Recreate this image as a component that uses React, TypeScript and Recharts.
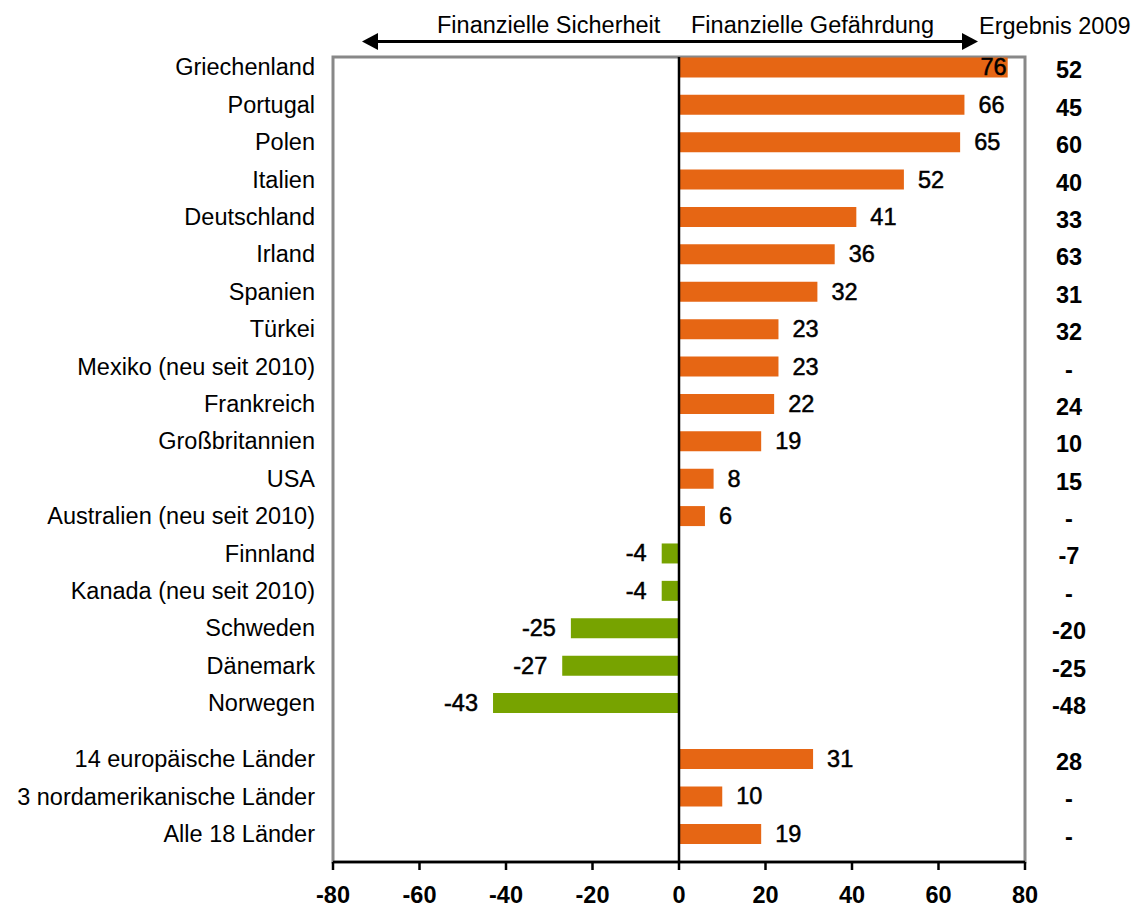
import {
  BarChart,
  Bar,
  XAxis,
  YAxis,
  Cell,
  LabelList,
  ReferenceLine,
  ReferenceArea,
} from "recharts";

const categories = [
  "Griechenland",
  "Portugal",
  "Polen",
  "Italien",
  "Deutschland",
  "Irland",
  "Spanien",
  "Türkei",
  "Mexiko (neu seit 2010)",
  "Frankreich",
  "Großbritannien",
  "USA",
  "Australien (neu seit 2010)",
  "Finnland",
  "Kanada (neu seit 2010)",
  "Schweden",
  "Dänemark",
  "Norwegen",
  "14 europäische Länder",
  "3 nordamerikanische Länder",
  "Alle 18 Länder",
];

const values2010 = [76, 66, 65, 52, 41, 36, 32, 23, 23, 22, 19, 8, 6, -4, -4, -25, -27, -43, 31, 10, 19];

const results2009 = [
  "52", "45", "60", "40", "33", "63", "31", "32", "-", "24", "10", "15", "-",
  "-7", "-", "-20", "-25", "-48", "28", "-", "-",
];

const xTicks = [-80, -60, -40, -20, 0, 20, 40, 60, 80];

// the three aggregate rows sit half a row lower
const SUMMARY_START = 18;

const FONT = '"Liberation Sans", Arial, sans-serif';
const ORANGE = "#E66614";
const GREEN = "#77A300";
const W = 1136;
const H = 908;
const RIGHT_W = 111;
const PLOT_RIGHT = W - RIGHT_W;
const ROW_DOMAIN: [number, number] = [-0.27, 21.26];

const rows = categories.map((name, i) => ({
  name,
  pos: i < SUMMARY_START ? i : i + 0.5,
  value: values2010[i],
  prev: results2009[i],
}));

const nameAt = (p: number) => rows.find((r) => r.pos === p)?.name ?? "";

const BarValueLabel = (props: any) => {
  const { x, y, width, height, value } = props;
  const end = value >= 0 ? Math.max(x, x + width) : Math.min(x, x + width);
  const text = String(value);
  const estW = text.length * 13;
  let tx = value >= 0 ? end + 14 : end - 15;
  let anchor = value >= 0 ? "start" : "end";
  if (value >= 0 && tx + estW > PLOT_RIGHT - 18) {
    tx = end - 1;
    anchor = "end";
  }
  return (
    <text
      x={tx}
      y={y + height / 2}
      dy={8}
      textAnchor={anchor}
      fontSize={23.5}
      fontFamily={FONT}
      fill="#000"
      stroke="#000"
      strokeWidth={0.5}
    >
      {text}
    </text>
  );
};

// 2009 result column, drawn to the right of the plot on each bar's row
const PrevLabel = (props: any) => {
  const { y, height, value } = props;
  return (
    <text
      x={PLOT_RIGHT + 44}
      y={y + height / 2}
      dy={11}
      textAnchor="middle"
      fontSize={23.5}
      fontWeight="bold"
      fontFamily={FONT}
      fill="#000"
    >
      {value}
    </text>
  );
};

export default function App() {
  return (
    <div style={{ position: "absolute", left: 0, top: 0, width: W, height: H, fontFamily: FONT }}>
      <svg width={W} height={60} style={{ position: "absolute", left: 0, top: 0 }}>
        <line x1={372} y1={41.5} x2={968} y2={41.5} stroke="#000" strokeWidth={3} />
        <polygon points="362,41.5 378,33 378,50" fill="#000" />
        <polygon points="978,41.5 962,33 962,50" fill="#000" />
        <text x={437} y={33} fontSize={23.5} fontFamily={FONT} fill="#000">
          Finanzielle Sicherheit
        </text>
        <text x={934} y={33} textAnchor="end" fontSize={23.5} fontFamily={FONT} fill="#000">
          Finanzielle Gefährdung
        </text>
        <text x={979} y={34} fontSize={23.5} fontFamily={FONT} fill="#000">
          Ergebnis 2009
        </text>
      </svg>
      <BarChart
        width={W}
        height={H}
        data={rows}
        layout="vertical"
        margin={{ top: 57, right: RIGHT_W, bottom: 0, left: 0 }}
      >
        <ReferenceArea x1={-80} x2={80} fill="none" stroke="#888" strokeWidth={3} ifOverflow="visible" />
        <XAxis
          type="number"
          domain={[-80, 80]}
          ticks={xTicks}
          height={46}
          axisLine={{ stroke: "#000", strokeWidth: 2.5 }}
          tickLine={{ stroke: "#000", strokeWidth: 2.5 }}
          tickSize={8}
          tickMargin={16}
          tick={{ fill: "#000", fontSize: 23.5, fontWeight: "bold", fontFamily: FONT }}
        />
        <YAxis
          type="number"
          dataKey="pos"
          domain={ROW_DOMAIN}
          allowDataOverflow
          ticks={rows.map((r) => r.pos)}
          tickFormatter={nameAt}
          interval={0}
          width={333}
          axisLine={false}
          tickLine={false}
          tickSize={0}
          tickMargin={18}
          tick={{ fill: "#000", fontSize: 23.5, fontFamily: FONT }}
        />
        <Bar dataKey="value" barSize={20} isAnimationActive={false}>
          {rows.map((r) => (
            <Cell key={r.name} fill={r.value >= 0 ? ORANGE : GREEN} />
          ))}
          <LabelList dataKey="value" content={<BarValueLabel />} />
          <LabelList dataKey="prev" content={<PrevLabel />} />
        </Bar>
        <ReferenceLine x={0} stroke="#000" strokeWidth={2.5} />
      </BarChart>
    </div>
  );
}
